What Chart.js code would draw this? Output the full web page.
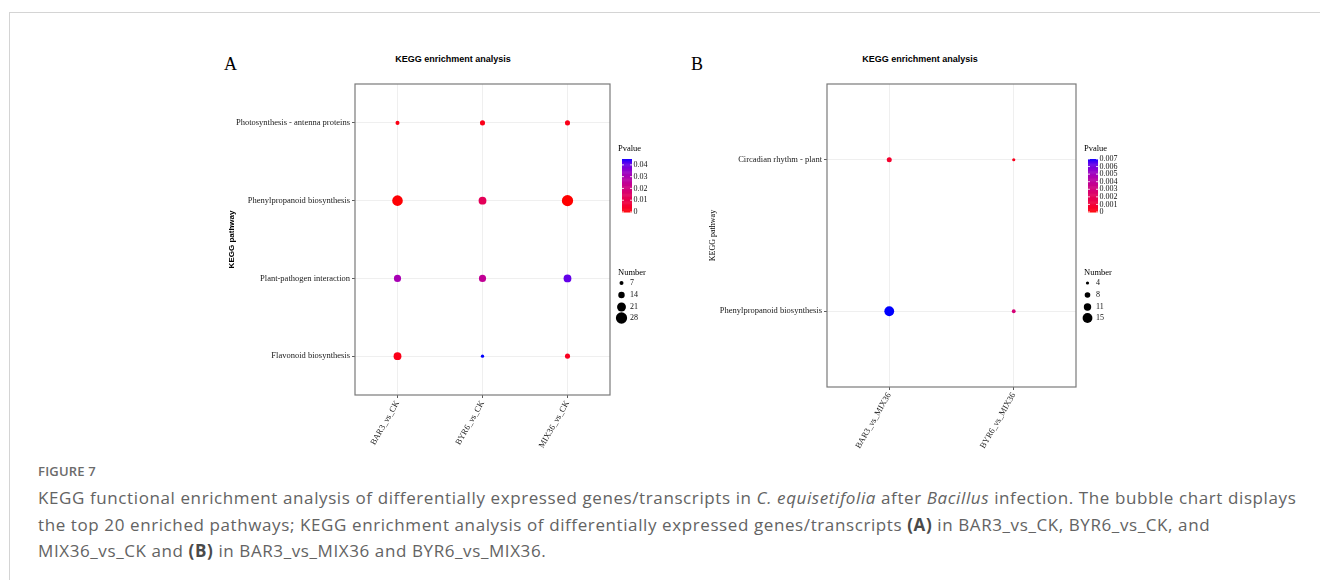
<!DOCTYPE html>
<html lang="en">
<head>
<meta charset="UTF-8">
<title>KEGG enrichment analysis</title>
<script src="https://cdn.jsdelivr.net/npm/chart.js"></script>
<style>
    html, body { margin: 0; padding: 0; background: #fff; }
    body { width: 1320px; height: 580px; position: relative; overflow: hidden; }
    .card { position: absolute; left: 9px; top: 12px; width: 1400px; height: 700px;
            border-left: 1px solid #d4d4d4; border-top: 1px solid #d4d4d4; }
    .panel { position: absolute; }
    .letter { position: absolute; font-family: 'Liberation Serif', serif; font-size: 18px; color: #000; line-height: 1; }
    .ptitle { position: absolute; font-family: 'Liberation Sans', Arial, sans-serif; font-weight: bold;
              font-size: 9px; color: #000; transform: translateX(-50%); white-space: nowrap; line-height: 1; }
    .fig { position: absolute; left: 38px; top: 462px; font-family: 'Open Sans', sans-serif;
           font-size: 13px; font-weight: 600; color: #6b6b6b; letter-spacing: 0.2px; }
    .caption { position: absolute; left: 38px; top: 485px; width: 1290px; font-family: 'Open Sans', sans-serif;
               font-size: 17px; letter-spacing: 0.6px; line-height: 26.5px; color: #636363; white-space: nowrap; }
    .caption b { color: #4a4a4a; }
</style>
</head>
<body>
<div class="card"></div>

<div class="letter" style="left:224px; top:55px;">A</div>
<div class="ptitle" style="left:453px; top:55px;">KEGG enrichment analysis</div>
<div class="letter" style="left:691px; top:55px;">B</div>
<div class="ptitle" style="left:920px; top:55px;">KEGG enrichment analysis</div>

<canvas id="chartA" class="panel" style="left:200px; top:70px;"></canvas>
<canvas id="chartB" class="panel" style="left:680px; top:70px;"></canvas>

<div class="fig">FIGURE 7</div>
<div class="caption">KEGG functional enrichment analysis of differentially expressed genes/transcripts in <i>C. equisetifolia</i> after <i>Bacillus</i> infection. The bubble chart displays<br>the top 20 enriched pathways; KEGG enrichment analysis of differentially expressed genes/transcripts <b>(A)</b> in BAR3_vs_CK, BYR6_vs_CK, and<br>MIX36_vs_CK and <b>(B)</b> in BAR3_vs_MIX36 and BYR6_vs_MIX36.</div>

<script>
// panel A data (rows = pathways, columns = comparisons)
const groupsA = ['BAR3_vs_CK', 'BYR6_vs_CK', 'MIX36_vs_CK'];
const pathwaysA = ['Photosynthesis - antenna proteins', 'Phenylpropanoid biosynthesis',
                   'Plant-pathogen interaction', 'Flavonoid biosynthesis'];
const numberA = [[7, 10, 10], [26, 18, 28], [16, 16, 18], [18, 5, 10]];
const pvalueA = [[0.0015, 0.002, 0.002], [0.0003, 0.013, 0.00001], [0.031, 0.025, 0.041], [0.002, 0.045, 0.003]];
const sizeBreaksA = [7, 14, 21, 28];
const pTicksA = [0, 0.01, 0.02, 0.03, 0.04];

// panel B data
const groupsB = ['BAR3_vs_MIX36', 'BYR6_vs_MIX36'];
const pathwaysB = ['Circadian rhythm - plant', 'Phenylpropanoid biosynthesis'];
const numberB = [[7, 4], [15, 5]];
const pvalueB = [[0.0008, 0.0004], [0.007, 0.0029]];
const sizeBreaksB = [4, 8, 11, 15];
const pTicksB = [0, 0.001, 0.002, 0.003, 0.004, 0.005, 0.006, 0.007];

// red -> blue gradient interpolated in CIELAB (like ggplot's scale_colour_gradient)
const LAB_RED = [53.24, 80.09, 67.20];
const LAB_BLUE = [32.30, 79.19, -107.86];
function labToRgb(L, a, b) {
    const fy = (L + 16) / 116, fx = fy + a / 500, fz = fy - b / 200;
    const finv = t => (t * t * t > 0.008856 ? t * t * t : (t - 16 / 116) / 7.787);
    const X = 0.95047 * finv(fx), Y = finv(fy), Z = 1.08883 * finv(fz);
    const lin = [3.2406 * X - 1.5372 * Y - 0.4986 * Z,
                 -0.9689 * X + 1.8758 * Y + 0.0415 * Z,
                 0.0557 * X - 0.2040 * Y + 1.0570 * Z];
    const rgb = lin.map(c => {
        c = Math.min(1, Math.max(0, c));
        c = c <= 0.0031308 ? 12.92 * c : 1.055 * Math.pow(c, 1 / 2.4) - 0.055;
        return Math.round(c * 255);
    });
    return 'rgb(' + rgb.join(',') + ')';
}
function gradColor(t) {
    t = Math.min(1, Math.max(0, t));
    return labToRgb(LAB_RED[0] + (LAB_BLUE[0] - LAB_RED[0]) * t,
                    LAB_RED[1] + (LAB_BLUE[1] - LAB_RED[1]) * t,
                    LAB_RED[2] + (LAB_BLUE[2] - LAB_RED[2]) * t);
}

const serif = 'Liberation Serif';

const panelPlugin = {
    id: 'panelDecor',
    afterDraw(chart, args, o) {
        const ctx = chart.ctx, ca = chart.chartArea;
        ctx.save();
        // panel frame
        ctx.strokeStyle = '#7a7a7a';
        ctx.lineWidth = 1.2;
        ctx.strokeRect(ca.left, ca.top, ca.right - ca.left, ca.bottom - ca.top);

        const lx = ca.right + 8;
        ctx.fillStyle = '#000';
        ctx.textBaseline = 'middle';
        ctx.textAlign = 'left';
        ctx.font = '8.5px "' + serif + '"';
        ctx.fillText('Pvalue', lx, ca.top + 65);

        // colour bar
        const bx = lx + 4, bw = 10, bTop = ca.top + 75, bBot = ca.top + 128;
        const bins = 60;
        for (let i = 0; i < bins; i++) {
            ctx.fillStyle = gradColor((i + 0.5) / bins);
            const y0 = bBot - (i + 1) * (bBot - bTop) / bins;
            ctx.fillRect(bx, y0, bw, (bBot - bTop) / bins + 0.5);
        }
        ctx.font = '8px "' + serif + '"';
        o.pTicks.forEach(v => {
            const y = bBot - (v - o.pMin) / (o.pMax - o.pMin) * (bBot - bTop);
            ctx.strokeStyle = '#fff';
            ctx.lineWidth = 0.8;
            ctx.beginPath();
            ctx.moveTo(bx, y); ctx.lineTo(bx + 2, y);
            ctx.moveTo(bx + bw - 2, y); ctx.lineTo(bx + bw, y);
            ctx.stroke();
            ctx.fillStyle = '#111';
            ctx.fillText(String(v), bx + bw + 1.5, y);
        });

        // size legend
        ctx.font = '8.5px "' + serif + '"';
        ctx.fillStyle = '#000';
        ctx.fillText('Number', lx, ca.top + 189);
        const ys = [199, 211, 223, 234];
        ctx.font = '8px "' + serif + '"';
        o.sizeBreaks.forEach((v, i) => {
            ctx.fillStyle = '#000';
            ctx.beginPath();
            ctx.arc(lx + 3.5, ca.top + ys[i], o.sizeFn(v), 0, Math.PI * 2);
            ctx.fill();
            ctx.fillStyle = '#111';
            ctx.fillText(String(v), lx + 12, ca.top + ys[i]);
        });
        ctx.restore();
    }
};

function makePanel(id, groups, pathways, numbers, pvalues, sizeFn, sizeBreaks, pTicks, lay) {
    const all = pvalues.flat();
    const pMin = 0, pMax = Math.max(...all);
    const points = [];
    pathways.forEach((p, i) => groups.forEach((g, j) => {
        points.push({ x: j, y: i, r: sizeFn(numbers[i][j]), p: pvalues[i][j] });
    }));
    const canvas = document.getElementById(id);
    canvas.width = lay.w; canvas.height = lay.h;
    canvas.style.width = lay.w + 'px'; canvas.style.height = lay.h + 'px';

    const grid = { color: '#ebebeb', lineWidth: 0.8, tickColor: '#333', tickLength: 3, drawTicks: true };
    new Chart(canvas, {
        type: 'bubble',
        data: {
            datasets: [{
                data: points,
                backgroundColor: c => gradColor((c.raw.p - pMin) / (pMax - pMin)),
                borderWidth: 0,
                hoverRadius: 0
            }]
        },
        options: {
            responsive: false,
            animation: false,
            events: [],
            layout: { padding: { left: 0, top: lay.pt, right: lay.pr, bottom: lay.pb } },
            plugins: {
                legend: { display: false },
                tooltip: { enabled: false },
                panelDecor: { pTicks, pMin, pMax, sizeBreaks, sizeFn }
            },
            scales: {
                x: {
                    type: 'linear', min: -0.5, max: groups.length - 0.5,
                    afterBuildTicks: s => { s.ticks = groups.map((g, i) => ({ value: i })); },
                    afterFit: s => { s.height = 70; },
                    ticks: {
                        callback: v => groups[v], autoSkip: false, minRotation: 60, maxRotation: 60,
                        font: { family: serif, size: 8.5 }, color: '#1a1a1a', padding: 1
                    },
                    grid, border: { display: false }
                },
                y: {
                    type: 'linear', reverse: true, min: -0.5, max: pathways.length - 0.5,
                    afterBuildTicks: s => { s.ticks = pathways.map((p, i) => ({ value: i })); },
                    afterFit: s => { s.width = lay.yw; },
                    ticks: {
                        callback: v => pathways[v], autoSkip: false,
                        font: { family: serif, size: 8.5 }, color: '#1a1a1a', padding: 2
                    },
                    grid, border: { display: false },
                    title: { display: true, text: 'KEGG pathway', color: '#000', font: lay.yTitleFont,
                             padding: { top: lay.yTitlePad, bottom: 0 } }
                }
            }
        },
        plugins: [panelPlugin]
    });
}

makePanel('chartA', groupsA, pathwaysA, numberA, pvalueA, v => 0.8 + 0.173 * v, sizeBreaksA, pTicksA,
    { w: 460, h: 400, yw: 155, pt: 14, pr: 50, pb: 5, yTitlePad: 27,
      yTitleFont: { family: 'Liberation Sans', weight: 'bold', size: 8 } });
makePanel('chartB', groupsB, pathwaysB, numberB, pvalueB, v => 0.4 + 0.3 * v, sizeBreaksB, pTicksB,
    { w: 460, h: 400, yw: 147, pt: 14, pr: 64, pb: 13, yTitlePad: 28,
      yTitleFont: { family: serif, size: 8 } });
</script>
</body>
</html>
